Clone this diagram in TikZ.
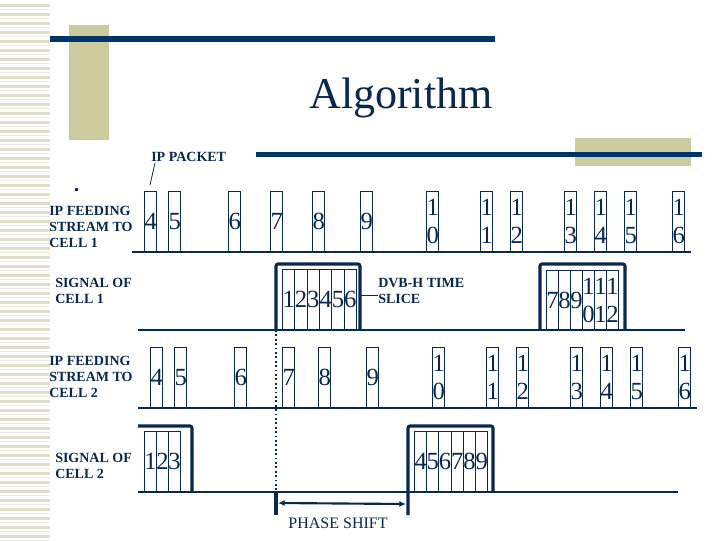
\documentclass[tikz,border=0pt]{standalone}
\usepackage{fontspec}
\setmainfont{Liberation Serif}
\usetikzlibrary{arrows.meta}
\definecolor{navy}{RGB}{8,40,78}
\definecolor{barblue}{RGB}{0,51,102}
\definecolor{tanbar}{RGB}{204,202,158}
\definecolor{stripe}{RGB}{224,222,200}
\newcommand{\digitfont}{\fontsize{18.5}{20.5}\selectfont}
\begin{document}
\begin{tikzpicture}[x=0.75pt,y=-0.75pt,
  lbl/.style={font=\fontsize{10.5}{12.3}\selectfont\bfseries, text=navy, align=left, inner sep=0, anchor=west},
  pkt/.style={draw=navy, line width=0.75pt, minimum width=9pt, minimum height=45pt, inner sep=0,
              text width=9pt, align=center, font=\digitfont, text=navy, anchor=south west},
  cell/.style={draw=navy, line width=0.6pt, inner sep=0, text width=9pt, align=center,
              font=\digitfont, text=navy, anchor=south west},
  slicebox/.style={draw=navy, line width=2.3pt, rounded corners=1.5pt},
  baseline/.style={draw=navy, line width=0.8pt},
  pointer/.style={draw=navy, line width=0.6pt}]
\useasboundingbox (0,0) rectangle (720,540);
\fill[white] (0,0) rectangle (720,540);
% left stripes
\foreach \y in {4,13,...,536} {
  \fill[stripe] (0,\y) rectangle (50,\y+2.6);
  \fill[stripe!60] (0,\y+5) rectangle (50,\y+6.2);
}
% decorative bars
\fill[tanbar] (69,25) rectangle (109,140);
\fill[barblue] (50,36) rectangle (495,42);
\fill[tanbar] (575,138) rectangle (691,166);
\fill[barblue] (256,152) rectangle (702,157);
% title
\node[font=\fontsize{33}{33}\selectfont, text=navy, anchor=base] (title) at (401,108) {Algorithm};
% small dot
\fill[navy] (75,188) rectangle (77.5,190.5);
% IP PACKET label
\node[lbl] (ippacket) at (151,157) {IP PACKET};
\coordinate (ipA) at (155,163);
\coordinate (ipB) at (150,185);
\draw[pointer] (ipA) -- (ipB);
% row labels
\node[lbl] (l1) at (49,227) {IP FEEDING\\STREAM TO\\CELL 1};
\node[lbl] (l2) at (55,291) {SIGNAL OF\\CELL 1};
\node[lbl] (l3) at (49,377) {IP FEEDING\\STREAM TO\\CELL 2};
\node[lbl] (l4) at (55,466) {SIGNAL OF\\CELL 2};
% baselines
\coordinate (b1s) at (132,252); \coordinate (b1e) at (691,252);
\coordinate (b2s) at (138,330); \coordinate (b2e) at (685,330);
\coordinate (b3s) at (138,408); \coordinate (b3e) at (697,408);
\coordinate (b4s) at (138,492); \coordinate (b4e) at (678,492);
\draw[baseline] (b1s) -- (b1e);
\draw[baseline] (b2s) -- (b2e);
\draw[baseline] (b3s) -- (b3e);
\draw[baseline] (b4s) -- (b4e);
% row 1 packets
\foreach \x/\t [count=\i] in {144/4,168/5,228/6,270/7,312/8,360/9,426/{1\\0},480/{1\\1},510/{1\\2},564/{1\\3},594/{1\\4},624/{1\\5},672/{1\\6}}
  \node[pkt] (ra\i) at (\x,252) {\t};
% row 3 packets
\foreach \x/\t [count=\i] in {150/4,174/5,234/6,282/7,318/8,366/9,432/{1\\0},486/{1\\1},516/{1\\2},570/{1\\3},600/{1\\4},630/{1\\5},678/{1\\6}}
  \node[pkt] (rc\i) at (\x,408) {\t};
% slice 1 of cell 1
\foreach \t [count=\i] in {1,2,3,4,5,6}
  \node[cell, minimum width=9.25pt, minimum height=45pt] (sa\i) at ({282+12.33*(\i-1)},330) {\t};
\coordinate (sa0) at (276,330);
\draw[slicebox] (sa0) -- (276,264) -- (360,264) -- (360,330);
% DVB-H label
\node[lbl] (dvb) at (378,291) {DVB-H TIME\\SLICE};
\coordinate (dvbA) at (361,295);
\draw[pointer] (dvbA) -- (dvbA -| dvb.west);
% slice 2 of cell 1
\foreach \t [count=\i] in {7,8,9}
  \node[cell, minimum width=9pt, minimum height=44.25pt] (sb\i) at ({546+12*(\i-1)},330) {\t};
\foreach \t [count=\i from 4] in {0,1,2}
  \node[cell, minimum width=9pt, minimum height=44.25pt, font=\fontsize{18.5}{21}\selectfont] (sb\i) at ({546+12*(\i-1)},330) {1\\\t};
\draw[slicebox] (540,330) -- (540,264) -- (625,264) -- (625,330);
% cell 2 slice 123
\foreach \t [count=\i] in {1,2,3}
  \node[cell, minimum width=9pt, minimum height=45pt] (sc\i) at ({144+12*(\i-1)},492) {\t};
\draw[slicebox] (b4s |- 0,426) -- (192,426) -- (192,492);
% cell 2 slice 456789
\foreach \t [count=\i] in {4,5,6,7,8,9}
  \node[cell, minimum width=9.15pt, minimum height=45pt] (sd\i) at ({414+12.2*(\i-1)},492) {\t};
\coordinate (psR) at (408,515);
\draw[slicebox] (psR) -- (408,426) -- (493,426) -- (493,492);
% phase shift
\coordinate (psL) at (276,515);
\coordinate (psLt) at (276,492);
\draw[navy, line width=2.3pt] (psLt) -- (psL);
\draw[navy, line width=1.3pt, dotted] (sa0) -- (psLt);
\draw[navy, line width=1.6pt, {Latex[length=5pt,width=4.5pt]}-{Latex[length=5pt,width=4.5pt]}]
  ([xshift=1.5pt,yshift=-8.25pt]psLt) -- ([xshift=-1.5pt,yshift=8.25pt]psR);
\node[font=\fontsize{12}{14}\selectfont, text=navy, inner sep=0] (phase) at (338,523) {PHASE SHIFT};
\end{tikzpicture}
\end{document}
